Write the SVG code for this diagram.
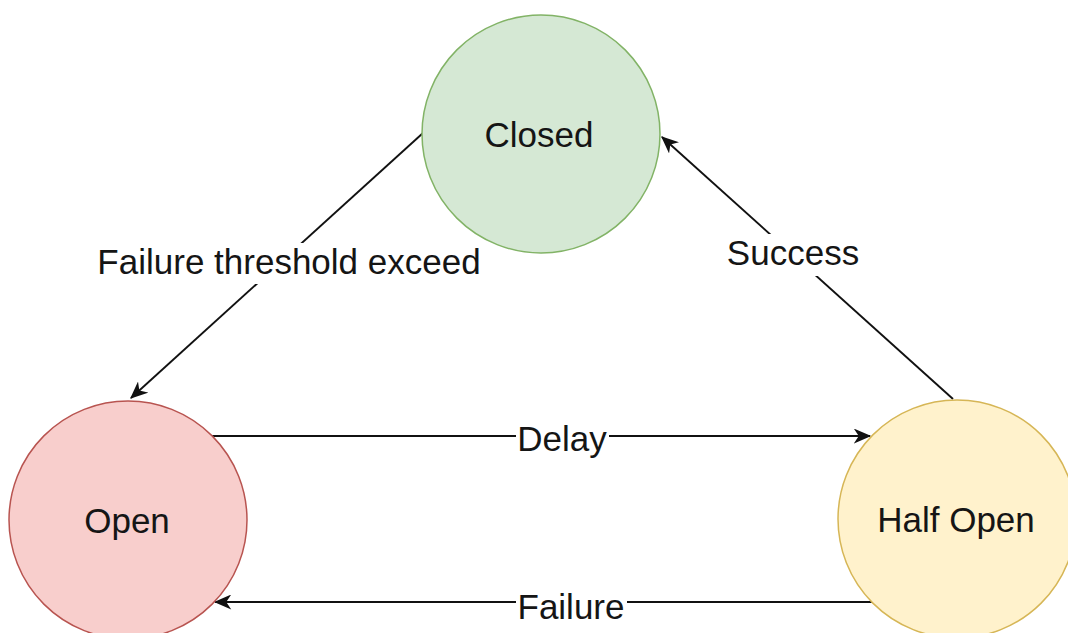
<svg xmlns="http://www.w3.org/2000/svg" width="1068" height="633" viewBox="0 0 1068 633">
  <style>
    .lbl { font-family: "Liberation Sans", Arial, sans-serif; font-size: 35px; fill: #151515; text-anchor: middle; }
    .edge { stroke: #111; stroke-width: 1.9; fill: none; }
    .bg { fill: #ffffff; }
  </style>
  <defs>
    <marker id="arrow" viewBox="0 0 14 12" refX="13" refY="6" markerWidth="18" markerHeight="15" markerUnits="userSpaceOnUse" orient="auto">
      <path d="M0,0 L14,6 L0,12 L4,6 Z" fill="#111"/>
    </marker>
  </defs>
  <rect x="0" y="0" width="1068" height="633" fill="#ffffff"/>

  <g id="connectors">
    <line class="edge" x1="423" y1="133" x2="131" y2="398" marker-end="url(#arrow)"/>
    <line class="edge" x1="953" y1="399" x2="662" y2="137" marker-end="url(#arrow)"/>
    <line class="edge" x1="212" y1="436" x2="870" y2="436" stroke-width="2.2" marker-end="url(#arrow)"/>
    <line class="edge" x1="872" y1="602" x2="215" y2="602" stroke-width="2.2" marker-end="url(#arrow)"/>
    <rect class="bg" x="94" y="243" width="392" height="41"/>
    <text class="lbl" x="289" y="274">Failure threshold exceed</text>
    <rect class="bg" x="722" y="234" width="144" height="42"/>
    <text class="lbl" x="793" y="265">Success</text>
    <rect class="bg" x="516" y="420" width="93" height="40"/>
    <text class="lbl" x="562" y="451">Delay</text>
    <rect class="bg" x="516" y="588" width="111" height="40"/>
    <text class="lbl" x="571" y="619">Failure</text>
  </g>

  <g id="closed">
    <circle cx="541" cy="134" r="119" fill="#d5e8d4" stroke="#82b366" stroke-width="1.5"/>
    <text class="lbl" x="539" y="147">Closed</text>
  </g>
  <g id="open">
    <circle cx="128" cy="520" r="119" fill="#f8cecc" stroke="#b85450" stroke-width="1.5"/>
    <text class="lbl" x="127" y="533">Open</text>
  </g>
  <g id="half-open">
    <circle cx="957" cy="519" r="119" fill="#fff2cc" stroke="#d6b656" stroke-width="1.5"/>
    <text class="lbl" x="956" y="532">Half Open</text>
  </g>
</svg>
